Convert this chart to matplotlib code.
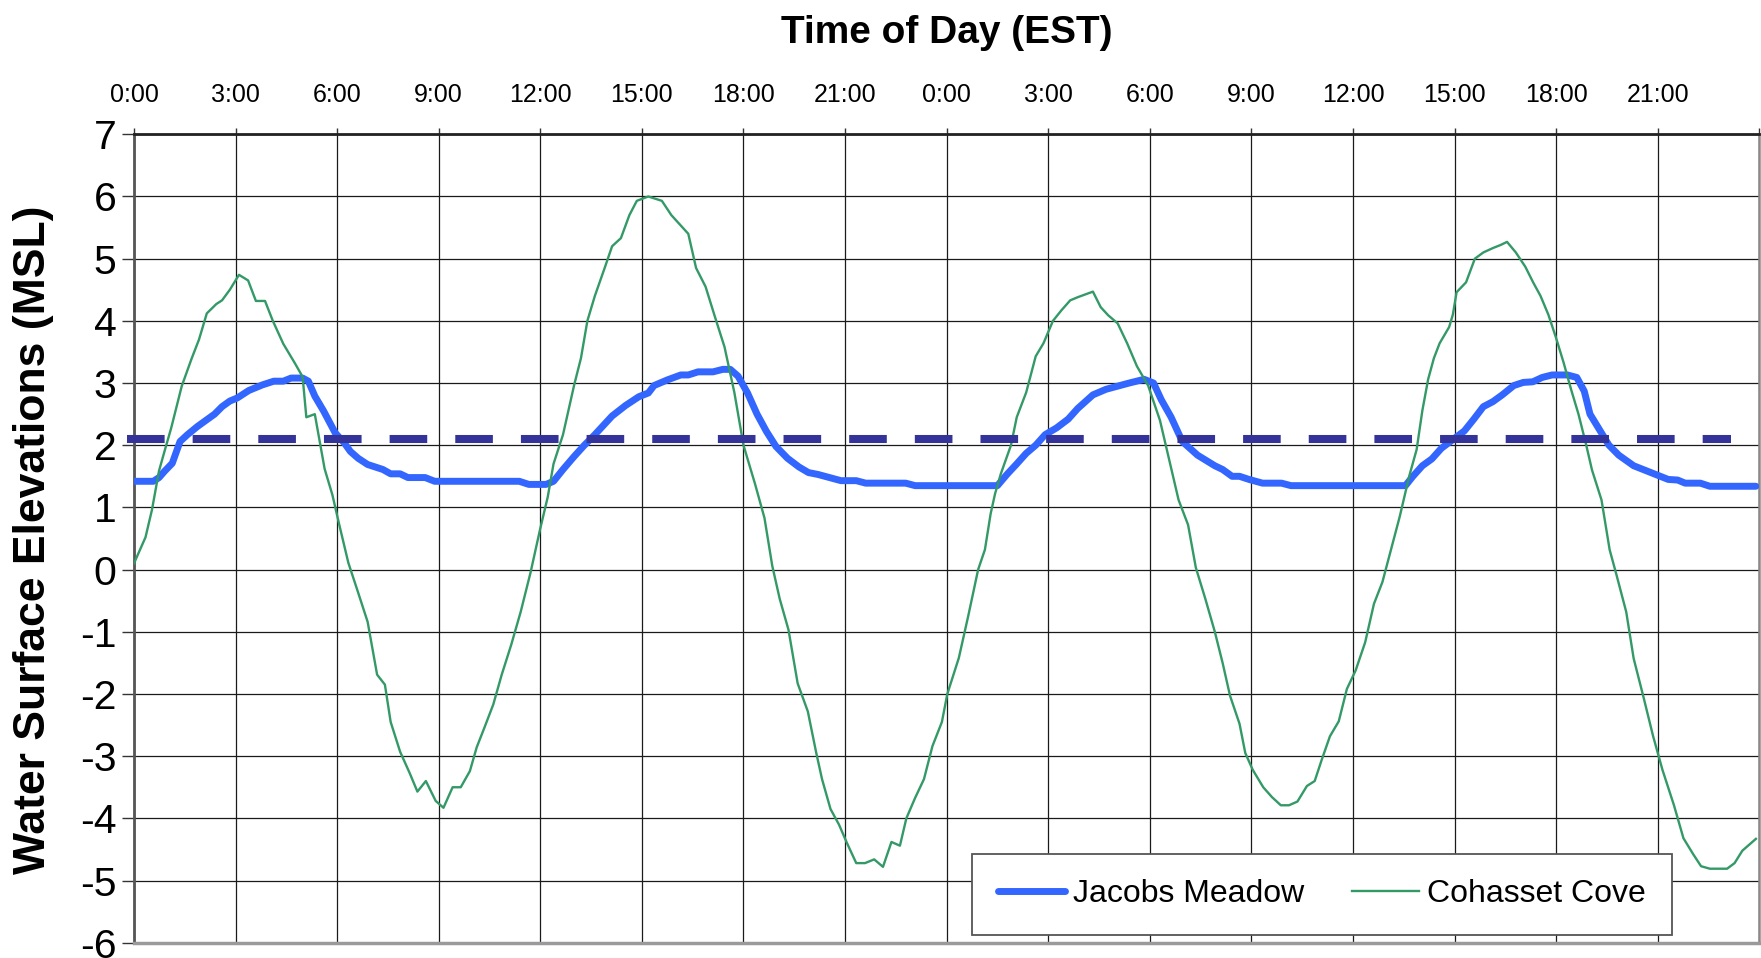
import matplotlib
matplotlib.use("Agg")
import matplotlib.pyplot as plt

plt.rcParams['font.family'] = ['Liberation Sans', 'DejaVu Sans']
plt.rcParams['axes.unicode_minus'] = False

# ---------------- data (hours since start, water surface elevation) ----------------
jacobs_hours = [0.0, 0.57, 0.74, 0.9, 1.13, 1.36, 1.58, 1.87, 2.15, 2.38, 2.6, 2.83, 3.05, 3.39, 3.79,
                4.13, 4.41, 4.64, 4.98, 5.15, 5.34, 5.6, 5.94, 6.22, 6.39, 6.62, 6.9, 7.35, 7.58, 7.86,
                8.09, 8.6, 8.88, 11.38, 11.66, 12.17, 12.39, 12.67, 13.0, 13.3, 13.61, 14.12, 14.52,
                14.91, 15.19, 15.36, 15.75, 16.15, 16.37, 16.66, 17.1, 17.39, 17.61, 17.84, 18.12, 18.4,
                18.68, 18.96, 19.3, 19.64, 19.92, 20.2, 20.54, 20.88, 21.33, 21.61, 22.79, 23.07, 25.5,
                25.78, 26.07, 26.35, 26.63, 26.91, 27.25, 27.59, 27.87, 28.32, 28.71, 29.05, 29.39,
                29.83, 30.11, 30.34, 30.63, 30.96, 31.41, 31.92, 32.15, 32.43, 32.65, 32.93, 33.33,
                33.89, 34.17, 37.55, 37.77, 38.05, 38.33, 38.61, 38.95, 39.29, 39.57, 39.85, 40.13,
                40.41, 40.75, 41.03, 41.31, 41.59, 41.88, 42.33, 42.61, 42.83, 43.0, 43.28, 43.56,
                43.85, 44.29, 44.8, 45.31, 45.59, 45.81, 46.26, 46.54, 47.9]
jacobs_elev = [1.42, 1.42, 1.48, 1.58, 1.71, 2.06, 2.17, 2.3, 2.41, 2.5, 2.62, 2.71, 2.76, 2.88, 2.97,
               3.03, 3.03, 3.08, 3.08, 3.03, 2.79, 2.55, 2.2, 2.03, 1.9, 1.79, 1.69, 1.61, 1.54, 1.54,
               1.48, 1.48, 1.42, 1.42, 1.37, 1.37, 1.42, 1.61, 1.82, 2.0, 2.17, 2.47, 2.64,
               2.78, 2.84, 2.96, 3.05, 3.13, 3.13, 3.18, 3.18, 3.22, 3.22, 3.11, 2.84, 2.5,
               2.22, 1.98, 1.79, 1.65, 1.56, 1.53, 1.48, 1.43, 1.43, 1.39, 1.39, 1.35, 1.35,
               1.53, 1.7, 1.87, 2.0, 2.17, 2.28, 2.42, 2.59, 2.81, 2.9, 2.95, 3.0,
               3.06, 3.0, 2.73, 2.45, 2.06, 1.84, 1.67, 1.61, 1.5, 1.5, 1.45, 1.39,
               1.39, 1.35, 1.35, 1.5, 1.67, 1.78, 1.95, 2.09, 2.23, 2.42, 2.62, 2.7,
               2.81, 2.96, 3.01, 3.02, 3.09, 3.13, 3.13, 3.09, 2.87, 2.5, 2.25, 2.0,
               1.84, 1.67, 1.56, 1.45, 1.44, 1.39, 1.39, 1.34, 1.34]

cohasset_hours = [0.0, 0.34, 0.53, 0.74, 0.9, 1.1, 1.41, 1.7, 1.92, 2.15, 2.43, 2.6, 2.83, 3.1, 3.37,
                  3.6, 3.87, 4.1, 4.41, 4.75, 4.98, 5.09, 5.34, 5.63, 5.86, 6.05, 6.33, 6.62, 6.9, 7.18,
                  7.41, 7.58, 7.86, 8.14, 8.37, 8.62, 8.91, 9.14, 9.41, 9.65, 9.92, 10.12, 10.35, 10.61,
                  10.86, 11.14, 11.42, 11.71, 11.99, 12.22, 12.39, 12.67, 13.0, 13.2, 13.39, 13.61, 13.9,
                  14.12, 14.38, 14.63, 14.85, 15.19, 15.59, 15.87, 16.37, 16.6, 16.88, 17.16, 17.44,
                  17.73, 18.0, 18.34, 18.62, 18.85, 19.07, 19.33, 19.6, 19.9, 20.15, 20.32, 20.57, 20.82,
                  21.05, 21.33, 21.59, 21.86, 22.12, 22.37, 22.62, 22.81, 23.07, 23.33, 23.58, 23.86,
                  24.02, 24.36, 24.64, 24.93, 25.13, 25.3, 25.43, 25.6, 25.9, 26.07, 26.35, 26.63, 26.86,
                  27.14, 27.39, 27.65, 27.87, 28.32, 28.55, 28.77, 29.05, 29.33, 29.62, 29.95, 30.3,
                  30.51, 30.85, 31.13, 31.36, 31.64, 31.92, 32.15, 32.37, 32.65, 32.82, 33.04, 33.35,
                  33.61, 33.87, 34.11, 34.36, 34.64, 34.87, 35.07, 35.32, 35.58, 35.82, 36.08, 36.36,
                  36.62, 36.87, 37.15, 37.38, 37.66, 37.88, 38.05, 38.22, 38.39, 38.56, 38.84, 38.95,
                  39.06, 39.34, 39.6, 39.85, 40.13, 40.36, 40.55, 40.81, 41.09, 41.32, 41.54, 41.77,
                  41.99, 42.22, 42.44, 42.66, 42.89, 43.06, 43.34, 43.58, 43.79, 44.07, 44.29, 44.58,
                  44.86, 45.14, 45.48, 45.76, 46.04, 46.28, 46.54, 47.05, 47.27, 47.5, 47.9]
cohasset_elev = [0.1, 0.52, 0.96, 1.59, 1.9, 2.28, 2.95, 3.39, 3.7, 4.12, 4.27, 4.33, 4.5, 4.74, 4.65,
                 4.32, 4.32, 4.0, 3.63, 3.32, 3.1, 2.45, 2.5, 1.62, 1.2, 0.75, 0.11, -0.37, -0.84, -1.69,
                 -1.85, -2.45, -2.93, -3.27, -3.57, -3.4, -3.72, -3.83, -3.5, -3.5, -3.24, -2.86, -2.54, -2.17,
                 -1.69, -1.21, -0.68, -0.05, 0.64, 1.17, 1.7, 2.17, 2.97, 3.4, 4.0, 4.4, 4.85,
                 5.2, 5.33, 5.7, 5.93, 6.0, 5.93, 5.7, 5.4, 4.85, 4.55, 4.06, 3.58,
                 2.85, 2.0, 1.38, 0.83, 0.06, -0.47, -0.97, -1.83, -2.28, -2.95, -3.37, -3.85, -4.1,
                 -4.39, -4.72, -4.72, -4.66, -4.78, -4.38, -4.44, -4.0, -3.67, -3.37, -2.84, -2.45,
                 -2.0, -1.42, -0.74, 0.0, 0.32, 0.9, 1.22, 1.54, 2.0, 2.45, 2.85, 3.43, 3.64,
                 4.0, 4.17, 4.33, 4.38, 4.47, 4.22, 4.09, 3.96, 3.64, 3.27, 2.96, 2.4,
                 1.91, 1.12, 0.72, 0.03, -0.47, -1.0, -1.5, -2.03, -2.48, -2.95, -3.22, -3.5,
                 -3.66, -3.79, -3.79, -3.73, -3.48, -3.4, -3.07, -2.68, -2.44, -1.92, -1.62, -1.17,
                 -0.55, -0.2, 0.38, 0.85, 1.5, 1.93, 2.56, 3.06, 3.4, 3.64, 3.9, 4.1,
                 4.46, 4.62, 5.0, 5.1, 5.17, 5.22, 5.27, 5.1, 4.87, 4.62, 4.4, 4.1,
                 3.74, 3.33, 2.9, 2.5, 2.0, 1.6, 1.12, 0.32, -0.1, -0.68, -1.43, -2.05,
                 -2.67, -3.22, -3.79, -4.32, -4.57, -4.77, -4.81, -4.81, -4.72, -4.52, -4.33]

threshold_level = 2.1
threshold_hours = [-0.2, 47.15]

tick_hours = list(range(0, 49, 3))
tick_labels = ['0:00', '3:00', '6:00', '9:00', '12:00', '15:00', '18:00', '21:00',
               '0:00', '3:00', '6:00', '9:00', '12:00', '15:00', '18:00', '21:00', '']
y_ticks = list(range(-6, 8))
y_labels = [str(v) for v in y_ticks]

# ---------------- figure ----------------
fig = plt.figure(figsize=(17.61, 9.58), dpi=100)
ax = fig.add_axes([0.07609, 0.01597, 0.92294, 0.84384])

ax.plot(jacobs_hours, jacobs_elev, color='#3366FF', lw=5.0, solid_capstyle='round',
        solid_joinstyle='round', label='Jacobs Meadow', zorder=3)
ax.plot(cohasset_hours, cohasset_elev, color='#339966', lw=1.7, label='Cohasset Cove', zorder=4)
thr, = ax.plot(threshold_hours, [threshold_level, threshold_level], color='#333399', lw=5.8,
               solid_capstyle='butt', dash_capstyle='butt', zorder=5, clip_on=False)
thr.set_dashes((4.67, 3.48))

ax.set_xlim(0, 48)
ax.set_ylim(-6, 7)
ax.xaxis.tick_top()
ax.set_xticks(tick_hours)
ax.set_xticklabels(tick_labels)
ax.set_yticks(y_ticks)
ax.set_yticklabels(y_labels)
ax.tick_params(axis='x', direction='out', length=4.5, width=1.0, pad=15, labelsize=18,
               color='#333333')
ax.tick_params(axis='y', direction='out', length=8.5, width=1.0, pad=4, labelsize=29.5,
               color='#333333')
ax.grid(True, color='#1a1a1a', lw=0.9, zorder=1)
ax.set_axisbelow(True)

ax.spines['top'].set_color('#222222')
ax.spines['top'].set_linewidth(2.0)
ax.spines['left'].set_color('#555555')
ax.spines['left'].set_linewidth(2.0)
ax.spines['bottom'].set_color('#9a9a9a')
ax.spines['bottom'].set_linewidth(2.5)
ax.spines['right'].set_color('#8a8a8a')
ax.spines['right'].set_linewidth(1.8)

fig.text(0.5378, 0.9652, 'Time of Day (EST)', ha='center', va='center',
         fontsize=28, fontweight='bold')
fig.text(0.0193, 0.437, 'Water Surface Elevations (MSL)', ha='center', va='center',
         rotation=90, fontsize=32, fontweight='bold')

leg = ax.legend(loc='center', bbox_to_anchor=(0.7309, 0.06), ncol=2, fontsize=23,
                frameon=True, fancybox=False, shadow=False, borderpad=0.8,
                handlelength=2.1, handletextpad=0.25, columnspacing=1.5, borderaxespad=0)
leg.get_frame().set_edgecolor('#555555')
leg.get_frame().set_linewidth(1.3)
leg.get_frame().set_facecolor('white')
leg.get_frame().set_alpha(1)
leg.set_zorder(10)

fig.savefig('out.png', dpi=100)
